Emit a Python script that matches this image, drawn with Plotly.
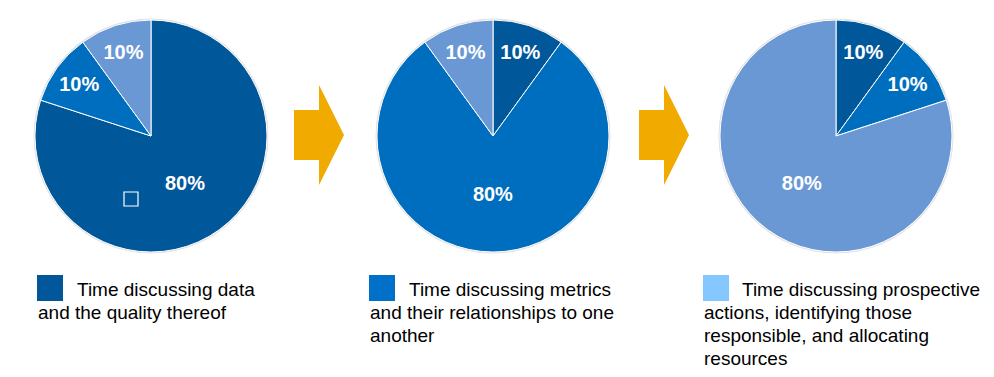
import plotly.graph_objects as go

# Page body has an 8px margin; size the figure so the page fits the 994x377 window.
OFF = 8
W, H = 994 - 2 * OFF, 377 - 2 * OFF

categories = ["Data", "Metrics", "Actions"]
pie1_values = [80, 10, 10]
pie2_values = [10, 80, 10]
pie3_values = [10, 10, 80]
slice_colors = ["#00589B", "#006EBE", "#6A98D5"]
legend_colors = ["#00589B", "#0070C8", "#85C8FF"]
legend_lines = [["Time discussing data", "and the quality thereof"],
                ["Time discussing metrics", "and their relationships to one", "another"],
                ["Time discussing prospective", "actions, identifying those",
                 "responsible, and allocating", "resources"]]

centers = [(151, 136), (493, 136), (836, 136)]
R = 116


def px_x(x):
    return (x - OFF) / W


def px_y(y):
    return 1 - (y - OFF) / H


fig = go.Figure()
shapes = []
for vals, (cx, cy) in zip([pie1_values, pie2_values, pie3_values], centers):
    # faint shadow ring behind the pie
    shapes.append(dict(type="circle", xref="paper", yref="paper", layer="below",
                       x0=px_x(cx - R - 1.5), x1=px_x(cx + R + 1.5),
                       y0=px_y(cy + R + 1.5), y1=px_y(cy - R - 1.5),
                       fillcolor="#E2E2E2", line=dict(width=0)))
    fig.add_trace(go.Pie(
        labels=categories, values=vals, sort=False, direction="clockwise",
        rotation=0,
        marker=dict(colors=slice_colors, line=dict(color="white", width=1)),
        textinfo="percent", textposition="inside",
        insidetextorientation="horizontal",
        textfont=dict(family="Liberation Sans, Arial", size=20, color="white"),
        texttemplate="<b>%{percent:.0%}</b>",
        domain=dict(x=[px_x(cx - R), px_x(cx + R)], y=[px_y(cy + R), px_y(cy - R)]),
        showlegend=False, hoverinfo="skip",
    ))

# arrows
for ax in [294, 639]:
    xs = [ax, ax + 25, ax + 25, ax + 50, ax + 25, ax + 25, ax]
    ys = [110, 110, 85, 135, 185, 160, 160]
    path = "M " + " L ".join(f"{px_x(x)},{px_y(y)}" for x, y in zip(xs, ys)) + " Z"
    shapes.append(dict(type="path", xref="paper", yref="paper", path=path,
                       fillcolor="#F0AA00", line=dict(width=0)))

# small hollow square artifact in pie 1
shapes.append(dict(type="rect", xref="paper", yref="paper",
                   x0=px_x(124), x1=px_x(138), y0=px_y(206), y1=px_y(192),
                   line=dict(color="white", width=1.2), fillcolor="rgba(0,0,0,0)"))

annotations = []
box_x = [37, 369, 703]
text_x = [75, 407, 740]
line_y0 = 289
line_step = 23
for i in range(3):
    shapes.append(dict(type="rect", xref="paper", yref="paper",
                       x0=px_x(box_x[i]), x1=px_x(box_x[i] + 26),
                       y0=px_y(301), y1=px_y(275),
                       fillcolor=legend_colors[i], line=dict(width=0)))
    for j, line in enumerate(legend_lines[i]):
        x = text_x[i] if j == 0 else box_x[i] - 1
        annotations.append(dict(x=px_x(x), y=px_y(line_y0 + j * line_step),
                                xref="paper", yref="paper",
                                xanchor="left", yanchor="middle", showarrow=False,
                                text=line, align="left",
                                font=dict(family="Liberation Sans, Arial", size=19,
                                          color="black")))

fig.update_layout(width=W, height=H, margin=dict(l=0, r=0, t=0, b=0),
                  paper_bgcolor="white", plot_bgcolor="white",
                  shapes=shapes, annotations=annotations)
fig.write_html("out.html")
